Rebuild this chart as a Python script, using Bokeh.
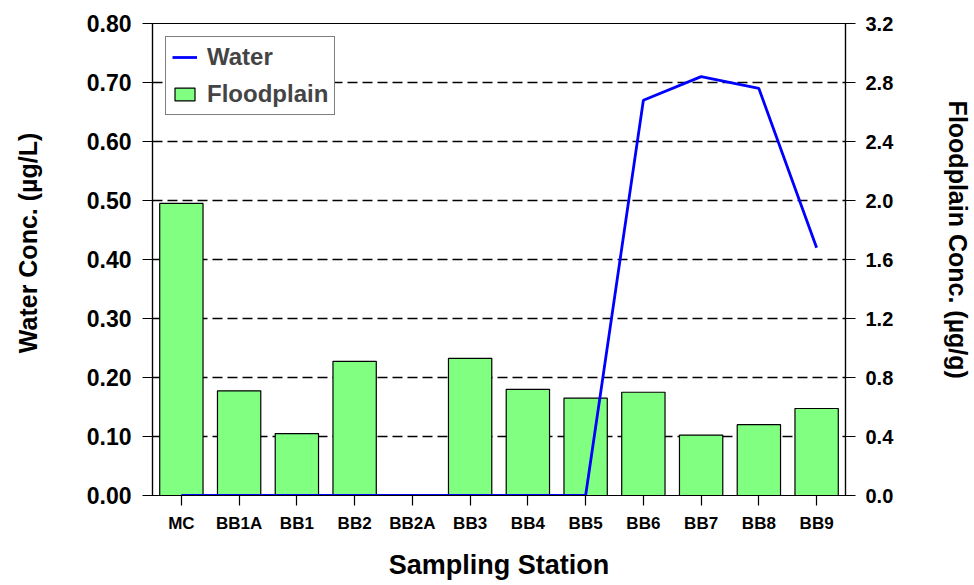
import math
from bokeh.plotting import figure
from bokeh.layouts import row
from bokeh.models import (ColumnDataSource, FactorRange, Range1d, LinearAxis,
                          FixedTicker, NumeralTickFormatter, Legend, LegendItem)
from bokeh.core.properties import value
from bokeh.embed import file_html
from bokeh.resources import INLINE

# Station order along the river
stations = ["MC", "BB1A", "BB1", "BB2", "BB2A", "BB3", "BB4", "BB5",
            "BB6", "BB7", "BB8", "BB9"]
# Water concentration (ug/L), left axis
water = [0.0, 0.0, 0.0, 0.0, 0.0, 0.0, 0.0, 0.0, 0.67, 0.71, 0.69, 0.42]
# Floodplain concentration (ug/g), right axis
floodplain = [1.98, 0.71, 0.42, 0.91, 0.0, 0.93, 0.72, 0.66, 0.70, 0.41, 0.48, 0.59]

water_ticks = [0.0, 0.1, 0.2, 0.3, 0.4, 0.5, 0.6, 0.7, 0.8]
flood_ticks = [0.0, 0.4, 0.8, 1.2, 1.6, 2.0, 2.4, 2.8, 3.2]

water_title = "Water Conc. (µg/L)"
flood_title = "Floodplain Conc. (µg/g)"

FONT = "Liberation Sans"
H = 585

src = ColumnDataSource(dict(station=stations, water=water, flood=floodplain))

p = figure(x_range=FactorRange(*stations, range_padding=0),
           y_range=Range1d(0, 0.8),
           frame_width=693, frame_height=472,
           min_border_left=92, min_border_right=60,
           min_border_top=23, min_border_bottom=90,
           output_backend="svg", toolbar_location=None)
p.extra_y_ranges = {"fp": Range1d(0, 3.2)}

p.outline_line_color = "black"
p.outline_line_width = 1.2
p.background_fill_color = "white"
p.border_fill_color = "white"

# dashed horizontal guides at each water-axis tick
p.xgrid.visible = False
p.ygrid.ticker = FixedTicker(ticks=water_ticks)
p.ygrid.grid_line_color = "black"
p.ygrid.grid_line_dash = "10 5"
p.ygrid.grid_line_width = 1.3

bars = p.vbar(x="station", top="flood", width=0.75, source=src,
              y_range_name="fp", fill_color="#80FF80", line_color="black",
              line_width=1.2)
line = p.line(x="station", y="water", source=src, line_color="#0000FF",
              line_width=2.8)

# left axis (water)
ya = p.yaxis[0]
ya.ticker = FixedTicker(ticks=water_ticks)
ya.formatter = NumeralTickFormatter(format="0.00")
ya.minor_tick_line_color = None

# right axis (floodplain)
ra = LinearAxis(y_range_name="fp", ticker=FixedTicker(ticks=flood_ticks),
                formatter=NumeralTickFormatter(format="0.0"))
ra.minor_tick_line_color = None
p.add_layout(ra, "right")

xa = p.xaxis[0]
xa.axis_label = "Sampling Station"

for ax, lab_size in ((ya, "23px"), (ra, "20px"), (xa, "17px")):
    ax.axis_line_color = "black"
    ax.axis_line_width = 1.2
    ax.major_tick_line_color = "black"
    ax.major_tick_line_width = 1.2
    ax.major_tick_in = 0
    ax.major_tick_out = 10
    ax.major_label_text_font = FONT
    ax.major_label_text_font_style = "bold"
    ax.major_label_text_font_size = lab_size
    ax.major_label_text_color = "black"

xa.axis_label_text_font = FONT
xa.axis_label_text_font_style = "bold"
xa.axis_label_text_font_size = "27px"
xa.axis_label_text_color = "black"

ya.major_label_standoff = 11
ra.major_label_standoff = 10
xa.major_label_standoff = 8
xa.axis_label_standoff = 14

legend = Legend(items=[LegendItem(label="Water", renderers=[line]),
                       LegendItem(label="Floodplain", renderers=[bars])],
                location="top_left")
legend.margin = 13
legend.padding = 6
legend.spacing = 9
legend.glyph_width = 25
legend.glyph_height = 16
legend.label_standoff = 10
legend.label_text_font = FONT
legend.label_text_font_style = "bold"
legend.label_text_font_size = "24px"
legend.border_line_color = "black"
legend.border_line_width = 1.5
legend.background_fill_alpha = 1.0
p.add_layout(legend)


def title_strip(width, text, cx, cy, angle):
    """Narrow pixel-scaled strip (no axes) that carries a vertical axis title."""
    f = figure(width=width, height=H, x_range=Range1d(0, width),
               y_range=Range1d(0, H), min_border=0,
               x_axis_location=None, y_axis_location=None,
               output_backend="svg", toolbar_location=None)
    f.grid.visible = False
    f.outline_line_color = None
    f.background_fill_color = "white"
    f.border_fill_color = "white"
    f.text(x=[cx], y=[H - cy], text=[text], angle=angle,
           text_align="center", text_baseline="middle",
           text_font=value(FONT), text_font_style="bold",
           text_font_size="25px", text_color="black")
    return f


left_strip = title_strip(60, water_title, 27, 272, math.pi / 2)
right_strip = title_strip(69, flood_title, 52, 268, -math.pi / 2)

layout = row(left_strip, p, right_strip, spacing=0)

open("out.html", "w").write(file_html(layout, INLINE))
